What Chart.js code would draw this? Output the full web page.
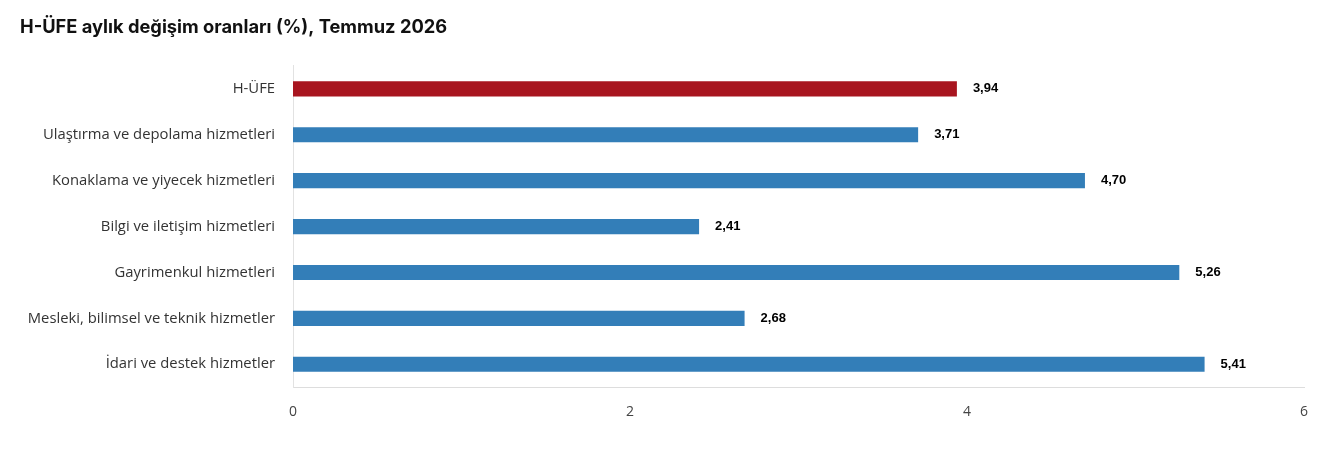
<!DOCTYPE html>
<html>
<head>
<meta charset="utf-8">
<script src="https://cdn.jsdelivr.net/npm/chart.js@4/dist/chart.umd.min.js"></script>
<style>
  html, body { margin: 0; padding: 0; background: #fff; }
  #wrap { width: 1340px; height: 455px; position: relative; }
</style>
</head>
<body>
<div id="wrap"><canvas id="barChart"></canvas></div>
<script>
const categories = [
  'H-ÜFE',
  'Ulaştırma ve depolama hizmetleri',
  'Konaklama ve yiyecek hizmetleri',
  'Bilgi ve iletişim hizmetleri',
  'Gayrimenkul hizmetleri',
  'Mesleki, bilimsel ve teknik hizmetler',
  'İdari ve destek hizmetler'
];
const values = [3.94, 3.71, 4.70, 2.41, 5.26, 2.68, 5.41];
const barColors = ['#a8151f', '#337eb8', '#337eb8', '#337eb8', '#337eb8', '#337eb8', '#337eb8'];
const xTicks = [0, 2, 4, 6];

// value labels right of each bar, comma decimal
const valueLabels = {
  id: 'valueLabels',
  afterDatasetsDraw(chart) {
    const ctx = chart.ctx;
    const meta = chart.getDatasetMeta(0);
    ctx.save();
    ctx.font = 'bold 13px "Liberation Sans", Arial, sans-serif';
    ctx.fillStyle = '#000';
    ctx.textAlign = 'left';
    ctx.textBaseline = 'middle';
    meta.data.forEach((bar, i) => {
      ctx.fillText(values[i].toFixed(2).replace('.', ','), bar.x + 16, bar.y);
    });
    ctx.restore();
  }
};

new Chart(document.getElementById('barChart'), {
  type: 'bar',
  data: {
    labels: categories,
    datasets: [{
      data: values,
      backgroundColor: barColors,
      borderWidth: 0,
      barPercentage: 0.33,
      categoryPercentage: 1
    }]
  },
  options: {
    indexAxis: 'y',
    responsive: true,
    maintainAspectRatio: false,
    animation: false,
    layout: { padding: { left: 20, right: 36, top: 0, bottom: 27 } },
    plugins: {
      legend: { display: false },
      tooltip: { enabled: false },
      title: {
        display: true,
        text: 'H-ÜFE aylık değişim oranları (%), Temmuz 2026',
        align: 'start',
        color: '#111',
        font: { family: 'Inter', size: 18.3, weight: 'bold' },
        padding: { top: 17, bottom: 27 }
      }
    },
    scales: {
      x: {
        min: 0,
        max: 6,
        afterBuildTicks(scale) { scale.ticks = xTicks.map(v => ({ value: v })); },
        grid: { display: false },
        border: { display: true, color: '#dddddd', width: 1 },
        ticks: {
          padding: 8,
          color: '#444',
          font: { family: 'Open Sans', size: 14 }
        }
      },
      y: {
        afterFit(scale) { scale.width = 273; },
        grid: { display: false },
        border: { display: true, color: '#e2e2e2', width: 1 },
        ticks: {
          padding: 10,
          color: '#333',
          font: { family: 'Open Sans', size: 14.8 }
        }
      }
    }
  },
  plugins: [valueLabels]
});
</script>
</body>
</html>
